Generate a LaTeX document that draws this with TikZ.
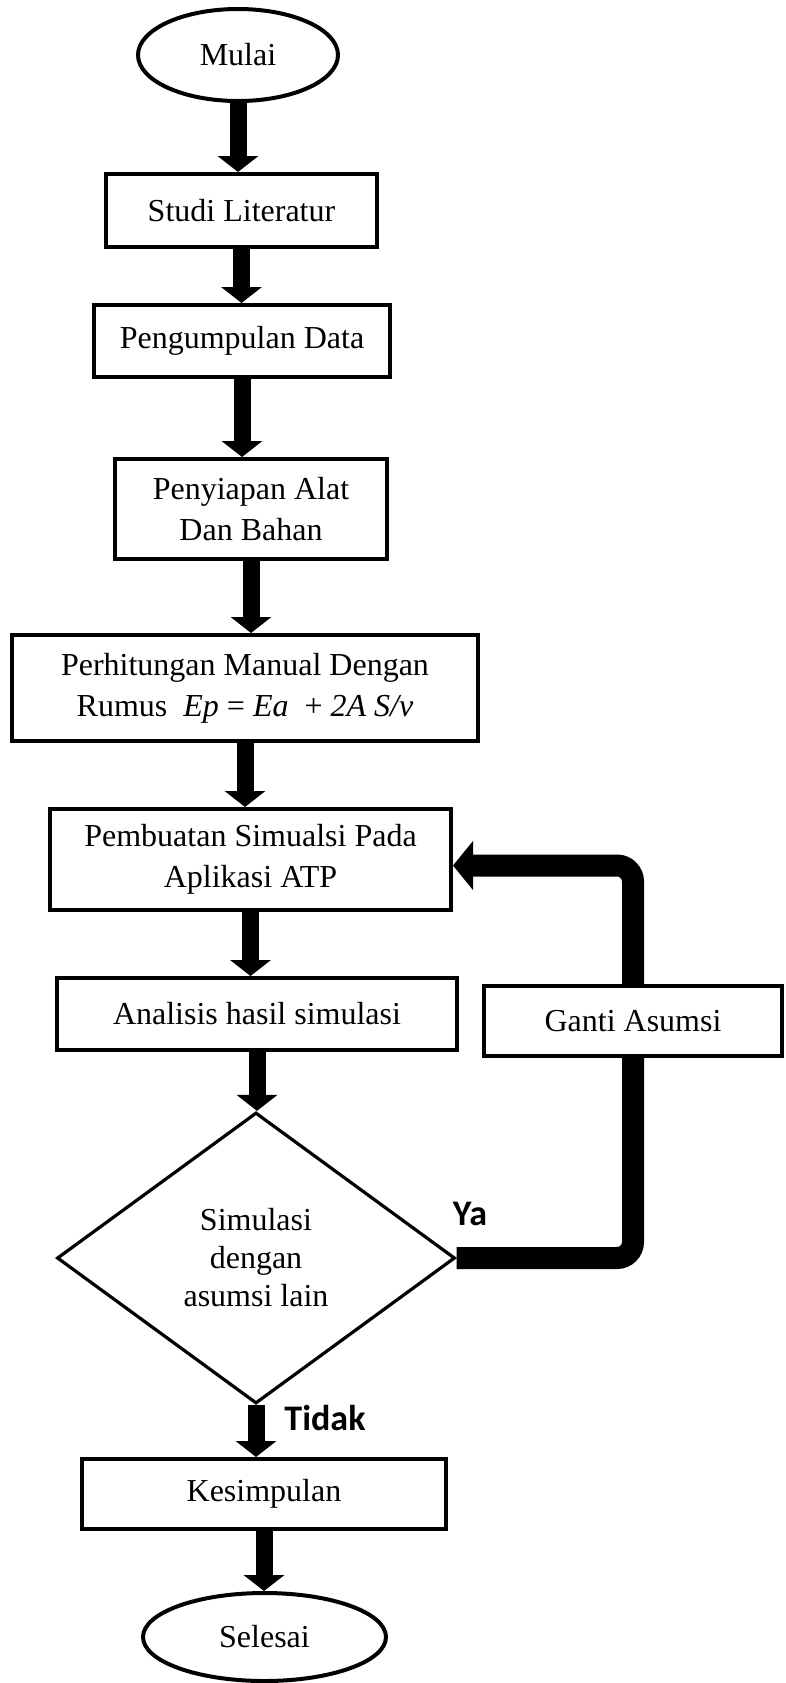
\documentclass[tikz,border=0pt]{standalone}
\usepackage{fontspec}
\setmainfont{Liberation Serif}
\newfontfamily\answerfont{Carlito}
\usetikzlibrary{shapes.geometric, arrows.meta, positioning}
\tikzset{
    box/.style={rectangle, draw, line width=2pt, align=center, inner sep=2pt, font=\fontsize{16}{20.5}\selectfont},
    terminal/.style={ellipse, draw, line width=2pt, inner sep=0pt, font=\fontsize{16}{20}\selectfont},
    decision/.style={diamond, draw, line width=1.6pt, align=center, inner sep=0pt, font=\fontsize{16}{19}\selectfont},
    flow/.style={-{Triangle[width=20pt, length=8pt]}, line width=8.5pt},
    loopline/.style={line width=11pt, rounded corners=8pt},
    loopflow/.style={loopline, -{Triangle[width=24pt, length=10pt]}},
    answer/.style={inner sep=0pt, font=\answerfont\bfseries\fontsize{18}{20}\selectfont}
}

\begin{document}
\begin{tikzpicture}[x=0.5pt, y=-0.5pt]
    \useasboundingbox (0,0) rectangle (786,1683);

    % main column
    \node[terminal, minimum width=100pt, minimum height=46pt] (mulai) at (238,55) {Mulai};
    \node[box, minimum width=135.5pt, minimum height=36.5pt] (studi) at (241.5,210.5) {Studi Literatur};
    \node[box, minimum width=148pt, minimum height=36pt] (kumpul) at (242,341) {Pengumpulan Data};
    \node[box, minimum width=136pt, minimum height=50pt] (siap) at (251,509) {Penyiapan Alat\\Dan Bahan};
    \node[box, minimum width=233pt, minimum height=53pt] (hitung) at (245,688) {Perhitungan Manual Dengan\\Rumus~~\textit{Ep} = \textit{Ea}~ + \textit{2A S/v}};
    \node[box, minimum width=200.5pt, minimum height=50.5pt] (buat) at (250.5,859.5) {Pembuatan Simualsi Pada\\Aplikasi ATP};
    \node[box, minimum width=200pt, minimum height=36pt] (analisis) at (257,1014) {Analisis hasil simulasi};
    \node[decision, minimum width=199pt, minimum height=145.5pt] (cek) at (256,1258) {Simulasi\\dengan\\asumsi lain};
    \node[box, minimum width=182pt, minimum height=35pt] (simpul) at (264,1494) {Kesimpulan};
    \node[terminal, minimum width=121.5pt, minimum height=44pt] (selesai) at (264.5,1637) {Selesai};

    % side branch
    \node[box, minimum width=149pt, minimum height=35pt] (ganti) at (633,1021) {Ganti Asumsi};

    % answers
    \node[answer] (ya) at (470,1214) {Ya};
    \node[answer] (tidak) at (325,1418) {Tidak};

    % arrows
    \draw[flow] (mulai) -- (mulai |- studi.north);
    \draw[flow] (studi) -- (studi |- kumpul.north);
    \draw[flow] (kumpul) -- (kumpul |- siap.north);
    \draw[flow] (siap) -- (siap |- hitung.north);
    \draw[flow] (hitung) -- (hitung |- buat.north);
    \draw[flow] (buat) -- (buat |- analisis.north);
    \draw[flow] (analisis) -- (analisis |- cek.north);
    \draw[flow] (cek) -- (cek |- simpul.north);
    \draw[flow] (simpul) -- (simpul |- selesai.north);

    % loop back
    \draw[loopline] (cek.east) -| (ganti.south);
    \draw[loopflow] (ganti.north) |- ([yshift=-3pt]buat.east);
\end{tikzpicture}
\end{document}
